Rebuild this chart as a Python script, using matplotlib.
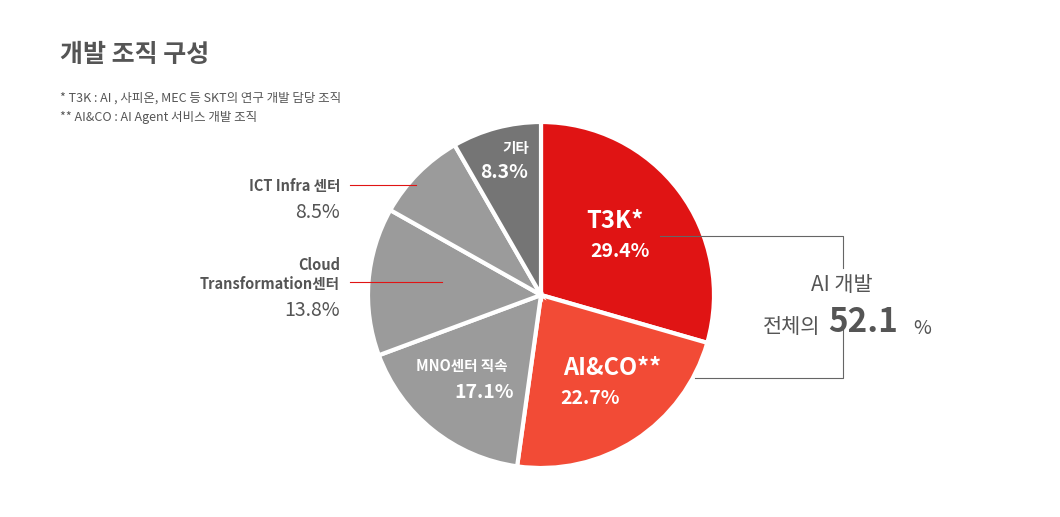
import matplotlib
matplotlib.use("Agg")
import matplotlib.pyplot as plt

plt.rcParams['font.family'] = ['Noto Sans CJK KR', 'DejaVu Sans']

labels = ["T3K*", "AI&CO**", "MNO센터 직속", "Cloud Transformation센터", "ICT Infra 센터", "기타"]
values = [29.4, 22.7, 17.1, 13.8, 8.5, 8.3]
colors = ["#E01414", "#F24B36", "#9B9B9B", "#9B9B9B", "#9B9B9B", "#757575"]

W, H = 1060, 517
fig = plt.figure(figsize=(W/100, H/100), dpi=100)
fig.patch.set_facecolor("white")

def P(x, y):
    return x / W, 1 - y / H

cx, cy, r = 541, 295, 173
ax = fig.add_axes([(cx - r)/W, (H - cy - r)/H, 2*r/W, 2*r/H])
ax.pie(values, colors=colors, startangle=90, counterclock=False, radius=1,
       wedgeprops=dict(edgecolor="white", linewidth=3))
ax.set_xlim(-1, 1)
ax.set_ylim(-1, 1)
ax.set_aspect("equal")
ax.axis("off")

def T(x, y, s, **kw):
    fig.text(*P(x, y), s, **kw)

T(60, 55, "개발 조직 구성", fontsize=18, fontweight="bold", color="#555555", va="center")
T(60, 98, "* T3K : AI , 사피온, MEC 등 SKT의 연구 개발 담당 조직", fontsize=9, color="#555555", va="center")
T(60, 117, "** AI&CO : AI Agent 서비스 개발 조직", fontsize=9, color="#555555", va="center")

# inside labels
T(615, 221, labels[0], fontsize=17, fontweight="bold", color="white", ha="center", va="center")
T(620, 251, f"{values[0]}%", fontsize=14, fontweight="bold", color="white", ha="center", va="center")
T(612, 368, labels[1], fontsize=17, fontweight="bold", color="white", ha="center", va="center")
T(590, 398, f"{values[1]}%", fontsize=14, fontweight="bold", color="white", ha="center", va="center")
T(462, 366, labels[2], fontsize=10.5, fontweight="bold", color="white", ha="center", va="center")
T(484, 392, f"{values[2]}%", fontsize=14, fontweight="bold", color="white", ha="center", va="center")
T(516, 148, labels[5], fontsize=10.5, fontweight="bold", color="white", ha="center", va="center")
T(504, 173, f"{values[5]}%", fontsize=14, fontweight="bold", color="white", ha="center", va="center")

# outside labels
T(340, 186, labels[4], fontsize=10.5, fontweight="bold", color="#555555", ha="right", va="center")
T(340, 212, f"{values[4]}%", fontsize=14, color="#555555", ha="right", va="center")
T(340, 265, "Cloud", fontsize=10.5, fontweight="bold", color="#555555", ha="right", va="center")
T(340, 284, "Transformation센터", fontsize=10.5, fontweight="bold", color="#555555", ha="right", va="center")
T(340, 310, f"{values[3]}%", fontsize=14, color="#555555", ha="right", va="center")

def L(xs, ys, c):
    fig.add_artist(plt.Line2D([x/W for x in xs], [1 - y/H for y in ys], color=c, lw=0.8))

L([350, 416], [185, 185], "#E01414")
L([350, 442], [282, 282], "#E01414")
L([660, 843, 843], [236, 236, 268], "#666666")
L([843, 843, 695], [322, 378, 378], "#666666")

T(842, 285, "AI 개발", fontsize=15, color="#555555", ha="center", va="center")
T(820, 327, "전체의", fontsize=15, color="#555555", ha="right", va="center")
T(828, 323, "52.1", fontsize=24, fontweight="bold", color="#555555", ha="left", va="center")
T(913, 328, "%", fontsize=14, color="#555555", ha="left", va="center")

fig.savefig("out.png", dpi=100)
